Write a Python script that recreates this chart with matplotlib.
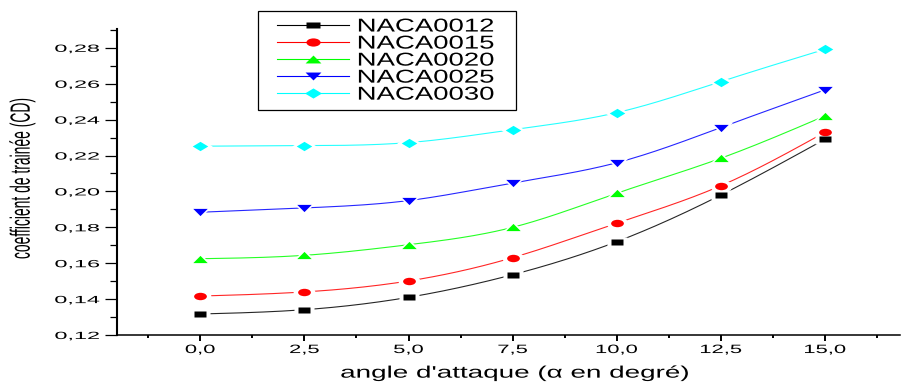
import numpy as np
import matplotlib
matplotlib.use("Agg")
import matplotlib.pyplot as plt
from matplotlib.path import Path
from matplotlib.markers import MarkerStyle
from matplotlib.lines import Line2D
from matplotlib.patches import Rectangle
from matplotlib.patheffects import AbstractPathEffect
from matplotlib.transforms import Affine2D
from matplotlib.ticker import FixedLocator, FixedFormatter

# ---- data -------------------------------------------------------------
angles = [0.0, 2.5, 5.0, 7.5, 10.0, 12.5, 15.0]
naca0012 = [0.1317, 0.1341, 0.1410, 0.1536, 0.1720, 0.1980, 0.2291]
naca0015 = [0.1417, 0.1440, 0.1501, 0.1631, 0.1823, 0.2032, 0.2330]
naca0020 = [0.1625, 0.1644, 0.1703, 0.1800, 0.1990, 0.2185, 0.2421]
naca0025 = [0.1884, 0.1908, 0.1949, 0.2047, 0.2160, 0.2356, 0.2566]
naca0030 = [0.2252, 0.2255, 0.2272, 0.2344, 0.2439, 0.2612, 0.2792]
series_names = ["NACA0012", "NACA0015", "NACA0020", "NACA0025", "NACA0030"]

x_ticks = [0.0, 2.5, 5.0, 7.5, 10.0, 12.5, 15.0]
x_tick_labels = ["0,0", "2,5", "5,0", "7,5", "10,0", "12,5", "15,0"]
y_ticks = [0.12, 0.14, 0.16, 0.18, 0.20, 0.22, 0.24, 0.26, 0.28]
y_tick_labels = ["0,12", "0,14", "0,16", "0,18", "0,20", "0,22", "0,24", "0,26", "0,28"]

x_label = "angle d'attaque ($\\alpha$ en degré)"
y_label = "coefficient de trainée (CD)"

plt.rcParams["font.family"] = ["Liberation Sans", "DejaVu Sans"]
plt.rcParams["mathtext.fontset"] = "custom"
plt.rcParams["mathtext.it"] = "Liberation Sans"
plt.rcParams["mathtext.rm"] = "Liberation Sans"


class Widen(AbstractPathEffect):
    """Stretch rendered glyph outlines horizontally about an anchor."""

    def __init__(self, sx, anchor="center"):
        super().__init__()
        self.sx = sx
        self.anchor = anchor

    def draw_path(self, renderer, gc, tpath, affine, rgbFace=None):
        ext = tpath.get_extents(affine)
        if not np.all(np.isfinite([ext.x0, ext.x1])):
            renderer.draw_path(gc, tpath, affine, rgbFace)
            return
        if self.anchor == "left":
            cx = ext.x0
        elif self.anchor == "right":
            cx = ext.x1
        else:
            cx = 0.5 * (ext.x0 + ext.x1)
        aff = affine + Affine2D().translate(-cx, 0).scale(self.sx, 1).translate(cx, 0)
        renderer.draw_path(gc, tpath, aff, rgbFace)


def shape(verts):
    v = np.asarray(verts, float)
    codes = [Path.MOVETO] + [Path.LINETO] * (len(v) - 1) + [Path.CLOSEPOLY]
    v = np.vstack([v, v[:1]])
    return MarkerStyle(Path(v, codes))


def ellipse(ry):
    c = Path.unit_circle()
    return MarkerStyle(Path(c.vertices * np.array([1.0, ry]), c.codes))


def natural_spline(x, y, n=200):
    x = np.asarray(x, float)
    y = np.asarray(y, float)
    h = np.diff(x)
    k = len(x)
    A = np.zeros((k, k))
    r = np.zeros(k)
    A[0, 0] = A[-1, -1] = 1.0
    for i in range(1, k - 1):
        A[i, i - 1] = h[i - 1]
        A[i, i] = 2 * (h[i - 1] + h[i])
        A[i, i + 1] = h[i]
        r[i] = 3 * ((y[i + 1] - y[i]) / h[i] - (y[i] - y[i - 1]) / h[i - 1])
    c = np.linalg.solve(A, r)
    b = (y[1:] - y[:-1]) / h - h * (2 * c[:-1] + c[1:]) / 3
    d = (c[1:] - c[:-1]) / (3 * h)
    xs = np.linspace(x[0], x[-1], n)
    idx = np.clip(np.searchsorted(x, xs, side="right") - 1, 0, k - 2)
    t = xs - x[idx]
    return xs, y[idx] + b[idx] * t + c[idx] * t ** 2 + d[idx] * t ** 3


markers = [
    (shape([(-1, -0.5), (1, -0.5), (1, 0.5), (-1, 0.5)]), 8.6),   # wide square
    (ellipse(0.58), 9.2),                                          # wide circle
    (shape([(-1, -0.5), (1, -0.5), (0, 0.5)]), 10.4),              # triangle up
    (shape([(-1, 0.5), (1, 0.5), (0, -0.5)]), 10.4),               # triangle down
    (shape([(-1, 0), (0, 0.6), (1, 0), (0, -0.6)]), 11.2),         # diamond
]
colors = ["#000000", "#ff0000", "#00ff00", "#0000ff", "#00ffff"]
values = [naca0012, naca0015, naca0020, naca0025, naca0030]

fig = plt.figure(figsize=(9.07, 3.83), dpi=100)
W, H = 907, 383
ax = fig.add_axes([117 / W, 48 / H, 783 / W, 306 / H])

handles = []
for vals, col, (mk, ms) in zip(values, colors, markers):
    xs, ys = natural_spline(angles, vals)
    ax.plot(xs, ys, color=col, lw=0.8, zorder=2, alpha=0.85)
    ax.plot(angles, vals, ls="none", marker=mk, ms=ms + 6.5, mfc="white",
            mec="none", zorder=3)
    ax.plot(angles, vals, ls="none", marker=mk, ms=ms, mfc=col, mec="none",
            zorder=4)
    handles.append(Line2D([], [], color=col, lw=0.8, marker=mk, ms=ms + 1,
                          mfc=col, mec="none"))

ax.set_xlim(-2.0, 16.8)
ax.set_ylim(0.12, 0.2905)
for s in ("top", "right"):
    ax.spines[s].set_visible(False)
ax.spines["left"].set_linewidth(1.5)
ax.spines["bottom"].set_linewidth(1.1)

ax.xaxis.set_major_locator(FixedLocator(x_ticks))
ax.xaxis.set_major_formatter(FixedFormatter(x_tick_labels))
ax.xaxis.set_minor_locator(FixedLocator(np.arange(-1.25, 16.5, 2.5)))
ax.yaxis.set_major_locator(FixedLocator(y_ticks))
ax.yaxis.set_major_formatter(FixedFormatter(y_tick_labels))
ax.yaxis.set_minor_locator(FixedLocator(np.arange(0.13, 0.295, 0.02)))

ax.tick_params(axis="x", which="major", direction="out", length=4, width=1.4,
               pad=2.5, labelsize=8.7)
ax.tick_params(axis="x", which="minor", direction="out", length=2.5, width=1.4)
ax.tick_params(axis="y", which="major", direction="out", length=9, width=0.9,
               pad=3.6, labelsize=7.5)
ax.tick_params(axis="y", which="minor", direction="out", length=5, width=0.9)

for t in ax.xaxis.get_major_ticks():
    t.label1.set_path_effects([Widen(1.82, "center")])
for t in ax.yaxis.get_major_ticks():
    t.label1.set_path_effects([Widen(2.25, "right")])

ax.set_xlabel(x_label, fontsize=12)
ax.xaxis.label.set_va("baseline")
ax.xaxis.set_label_coords((515 - 117) / 783, (335 - 377.7) / 306)
ax.xaxis.label.set_path_effects([Widen(1.67, "center")])

ax.set_ylabel(y_label, fontsize=10)
ax.yaxis.label.set_va("center")
ax.yaxis.set_label_coords((22 - 117) / 783, (335 - 178) / 306)
ax.yaxis.label.set_path_effects([Widen(2.0, "center")])

# legend frame and entries
fig.patches.append(Rectangle((258 / W, 1 - 110 / H), 258 / W, 99.3 / H,
                             transform=fig.transFigure, fill=False,
                             ec="black", lw=0.9))
leg = fig.legend(handles, series_names, loc="upper left",
                 bbox_to_anchor=(277 / W, 1 - 18.5 / H), frameon=False,
                 fontsize=13.4, borderpad=0, borderaxespad=0,
                 handlelength=3.85, handletextpad=0.47, labelspacing=0.0)
for t in leg.get_texts():
    t.set_path_effects([Widen(1.48, "left")])

fig.savefig("out.png", dpi=100)
